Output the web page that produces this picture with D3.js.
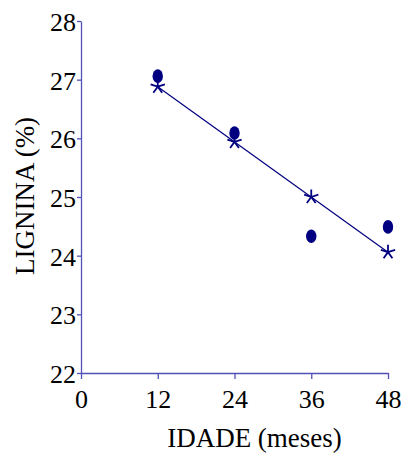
<!DOCTYPE html>
<html>
<head>
<meta charset="utf-8">
<script src="https://cdn.jsdelivr.net/npm/d3@7"></script>
<style>
  body { margin: 0; background: #fff; }
  svg text { font-family: 'Liberation Serif', 'DejaVu Serif', serif; fill: #000; }
</style>
</head>
<body>
<script>
const w = 409;
const h = 453;

// data
const months = [12, 24, 36, 48];
const observed = [27.06, 26.09, 24.33, 24.49];
const fitted = [26.88, 25.94, 25.0, 24.06];
const xTicks = [0, 12, 24, 36, 48];
const yTicks = [22, 23, 24, 25, 26, 27, 28];

const margin = { left: 81, right: 21, top: 21, bottom: 80 };
const serif = "'Liberation Serif', 'DejaVu Serif', serif";

const x = d3.scaleLinear().domain([0, 48]).range([margin.left, w - margin.right]);
const y = d3.scaleLinear().domain([22, 28]).range([h - margin.bottom, margin.top]);

const svg = d3.select('body')
  .append('svg')
  .attr('width', w)
  .attr('height', h);

const axisColor = '#5050b8';
const markColor = '#000080';

const xAxis = svg.append('g')
  .attr('transform', `translate(0,${y(22)})`)
  .call(d3.axisBottom(x).tickValues(xTicks).tickFormat(d3.format('d'))
    .tickSize(6).tickPadding(9).tickSizeOuter(0));

const yAxis = svg.append('g')
  .attr('transform', `translate(${x(0)},0)`)
  .call(d3.axisLeft(y).tickValues(yTicks).tickFormat(d3.format('d'))
    .tickSize(4).tickPadding(1).tickSizeOuter(0));

for (let g of [xAxis, yAxis]) {
  g.attr('font-family', serif).attr('font-size', 26);
  g.selectAll('path, line').attr('stroke', axisColor).attr('stroke-width', 1.3);
  g.selectAll('text').attr('fill', '#000');
}
xAxis.selectAll('text').attr('dy', '0.75em');
yAxis.selectAll('text').attr('dy', '0.36em');

// regression line through the first and last fitted points
const ends = [0, months.length - 1];
svg.append('path')
  .datum(ends)
  .attr('d', d3.line().x(i => x(months[i])).y(i => y(fitted[i])))
  .attr('fill', 'none')
  .attr('stroke', markColor)
  .attr('stroke-width', 1.2);

// observed values: filled ellipses
svg.selectAll('ellipse')
  .data(observed)
  .enter()
  .append('ellipse')
  .attr('cx', (d, i) => x(months[i]))
  .attr('cy', d => y(d))
  .attr('rx', 5.2)
  .attr('ry', 6.8)
  .attr('fill', markColor);

// fitted values: five-armed asterisk
const r = 7.5;
let star = '';
for (let k = 0; k < 5; k++) {
  const a = (90 + 72 * k) * Math.PI / 180;
  star += `M0,0L${(r * Math.cos(a)).toFixed(2)},${(-r * Math.sin(a)).toFixed(2)}`;
}
svg.selectAll('path.star')
  .data(fitted)
  .enter()
  .append('path')
  .attr('class', 'star')
  .attr('transform', (d, i) => `translate(${x(months[i])},${y(d)})`)
  .attr('d', star)
  .attr('fill', 'none')
  .attr('stroke', markColor)
  .attr('stroke-width', 1.8);

svg.append('text')
  .attr('x', (x(0) + x(48)) / 2 + 20)
  .attr('y', 447)
  .attr('text-anchor', 'middle')
  .attr('font-family', serif)
  .attr('font-size', 27)
  .text('IDADE (meses)');

svg.append('text')
  .attr('transform', `translate(34,196) rotate(-90)`)
  .attr('text-anchor', 'middle')
  .attr('font-family', serif)
  .attr('font-size', 27)
  .text('LIGNINA (%)');
</script>
</body>
</html>
